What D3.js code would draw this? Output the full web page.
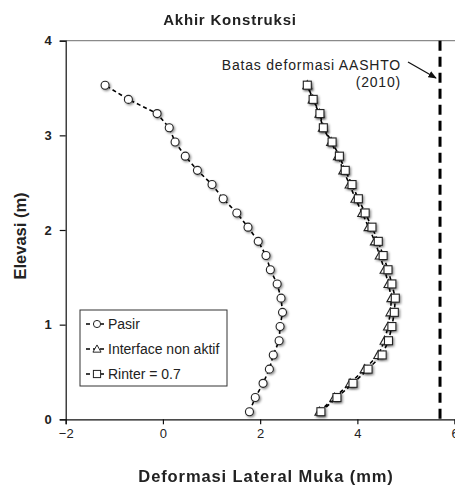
<!DOCTYPE html>
<html>
<head>
<meta charset="utf-8">
<script src="https://cdn.jsdelivr.net/npm/d3@7"></script>
<style>
  body { margin: 0; background: #fff; }
  text { font-family: "Liberation Sans", Arial, sans-serif; fill: #222; }
</style>
</head>
<body>
<div id="chart"></div>
<script>
// elevation of each reading (m), bottom to top
var elevasi = [0.08, 0.23, 0.38, 0.53, 0.68, 0.83, 0.98, 1.13, 1.28, 1.43, 1.58, 1.73,
               1.88, 2.03, 2.18, 2.33, 2.48, 2.63, 2.78, 2.93, 3.08, 3.23, 3.38, 3.53];
// lateral face deformation (mm)
var pasir = [1.78, 1.90, 2.06, 2.19, 2.27, 2.39, 2.41, 2.46, 2.43, 2.35, 2.21, 2.12,
             1.96, 1.75, 1.52, 1.24, 1.01, 0.71, 0.46, 0.25, 0.13, -0.12, -0.71, -1.19];
var interfaceNonAktif = [3.22, 3.53, 3.85, 4.15, 4.43, 4.56, 4.63, 4.68, 4.70, 4.64, 4.56, 4.46,
                         4.36, 4.23, 4.10, 3.96, 3.84, 3.71, 3.60, 3.46, 3.29, 3.22, 3.08, 2.97];
var rinter = [3.25, 3.58, 3.91, 4.22, 4.51, 4.64, 4.71, 4.76, 4.78, 4.71, 4.63, 4.53,
              4.43, 4.30, 4.16, 4.02, 3.89, 3.75, 3.63, 3.48, 3.30, 3.23, 3.09, 2.97];
var seriesNames = ["Pasir", "Interface non aktif", "Rinter = 0.7"];
var batasAASHTO = 5.7;
var xTicks = [-2, 0, 2, 4, 6];
var yTicks = [0, 1, 2, 3, 4];

var W = 455, H = 486;
var margin = {top: 40.7, right: 0.4, bottom: 66.7, left: 65.7};

var svg = d3.select("#chart").append("svg")
    .attr("width", W)
    .attr("height", H);

var defs = svg.append("defs");
var f = defs.append("filter").attr("id", "shadow")
    .attr("x", "-50%").attr("y", "-50%").attr("width", "200%").attr("height", "200%");
f.append("feDropShadow").attr("dx", 1.3).attr("dy", 1.3)
    .attr("stdDeviation", 0.8).attr("flood-color", "#000").attr("flood-opacity", 0.45);
defs.append("marker").attr("id", "arrow")
    .attr("viewBox", "0 0 10 10").attr("refX", 9).attr("refY", 5)
    .attr("markerWidth", 7).attr("markerHeight", 7).attr("orient", "auto")
  .append("path").attr("d", "M0,1 L10,5 L0,9 Z").attr("fill", "#111");

var x = d3.scaleLinear().domain([-2, 6]).range([margin.left, W - margin.right]);
var y = d3.scaleLinear().domain([0, 4]).range([H - margin.bottom, margin.top]);

// top border of the plot area
svg.append("line")
    .attr("x1", x(-2)).attr("x2", W)
    .attr("y1", y(4)).attr("y2", y(4))
    .attr("stroke", "#8a8a8a").attr("stroke-width", 1.2);

// axes
var xAxis = svg.append("g")
    .attr("transform", "translate(0," + y(0) + ")")
    .call(d3.axisBottom(x).tickValues(xTicks).tickSize(5).tickPadding(4).tickFormat(d3.format("d")));
var yAxis = svg.append("g")
    .attr("transform", "translate(" + x(-2) + ",0)")
    .call(d3.axisLeft(y).tickValues(yTicks).tickSize(6).tickPadding(8).tickFormat(d3.format("d")));
[xAxis, yAxis].forEach(function(a) {
  a.select(".domain").attr("stroke", "#111").attr("stroke-width", 1.2);
  a.selectAll(".tick line").attr("stroke", "#111").attr("stroke-width", 1.2);
  a.selectAll(".tick text").style("font-size", "13px").style("fill", "#222")
    .style("font-family", "'Liberation Sans', Arial, sans-serif");
});
yAxis.selectAll(".tick text").style("font-weight", "bold");

// AASHTO limit line
svg.append("line")
    .attr("x1", x(batasAASHTO)).attr("x2", x(batasAASHTO))
    .attr("y1", y(4)).attr("y2", y(0))
    .attr("stroke", "#000").attr("stroke-width", 3)
    .attr("stroke-dasharray", "10,6");

svg.append("text").attr("x", 401).attr("y", 70)
    .attr("text-anchor", "end").style("font-size", "14px").style("letter-spacing", "0.8px")
    .text("Batas deformasi AASHTO");
svg.append("text").attr("x", 401).attr("y", 87)
    .attr("text-anchor", "end").style("font-size", "14px").style("letter-spacing", "0.8px")
    .text("(2010)");
svg.append("line")
    .attr("x1", 408).attr("y1", 62).attr("x2", 436).attr("y2", 78)
    .attr("stroke", "#111").attr("stroke-width", 1.2)
    .attr("marker-end", "url(#arrow)");

// series
var shapes = ["circle", "triangle", "square"];
var allSeries = [pasir, interfaceNonAktif, rinter].map(function(vals, i) {
  return {name: seriesNames[i], shape: shapes[i],
          points: vals.map(function(v, j) { return {x: v, y: elevasi[j]}; })};
});

var line = d3.line().x(function(d) { return x(d.x); }).y(function(d) { return y(d.y); });

function drawMarker(g, shape) {
  if (shape === "circle") {
    g.append("circle").attr("r", 4);
  } else if (shape === "square") {
    g.append("rect").attr("x", -4).attr("y", -4).attr("width", 8).attr("height", 8);
  } else {
    g.append("path").attr("d", "M0,-4.5 L4.5,3.5 L-4.5,3.5 Z");
  }
  g.selectAll("circle,rect,path")
    .attr("fill", "#fff").attr("stroke", "#222").attr("stroke-width", 1.1);
}

var sg = svg.selectAll(".series").data(allSeries).enter().append("g").attr("class", "series");
sg.append("path")
    .attr("d", function(d) { return line(d.points); })
    .attr("fill", "none").attr("stroke", "#000")
    .attr("stroke-width", 1.6).attr("stroke-dasharray", "4,3");
sg.each(function(s) {
  d3.select(this).append("g").attr("filter", "url(#shadow)")
    .selectAll("g").data(s.points).enter().append("g")
    .attr("transform", function(d) { return "translate(" + x(d.x) + "," + y(d.y) + ")"; })
    .each(function() { drawMarker(d3.select(this), s.shape); });
});

// legend
var legend = svg.append("g").attr("transform", "translate(80,310)");
legend.append("rect").attr("width", 147).attr("height", 76)
    .attr("fill", "#fff").attr("stroke", "#333").attr("stroke-width", 1);
var li = legend.selectAll(".li").data(allSeries).enter().append("g")
    .attr("transform", function(d, i) { return "translate(0," + (14 + i * 25) + ")"; });
li.append("line").attr("x1", 6).attr("x2", 24)
    .attr("stroke", "#000").attr("stroke-width", 1.6).attr("stroke-dasharray", "4,3");
li.each(function(s) {
  var m = d3.select(this).append("g").attr("transform", "translate(17,0) scale(0.9)");
  drawMarker(m, s.shape);
});
li.append("text").attr("x", 28).attr("y", 5).style("font-size", "14px")
    .text(function(d) { return d.name; });

// titles
svg.append("text").attr("x", 230).attr("y", 25).attr("text-anchor", "middle")
    .style("font-size", "15px").style("font-weight", "bold").style("letter-spacing", "0.8px")
    .text("Akhir Konstruksi");
svg.append("text").attr("x", 266).attr("y", 482).attr("text-anchor", "middle")
    .style("font-size", "16.5px").style("font-weight", "bold").style("letter-spacing", "0.9px")
    .text("Deformasi Lateral Muka (mm)");
svg.append("text").attr("transform", "translate(26,236) rotate(-90)").attr("text-anchor", "middle")
    .style("font-size", "16.5px").style("font-weight", "bold").text("Elevasi (m)");
</script>
</body>
</html>
